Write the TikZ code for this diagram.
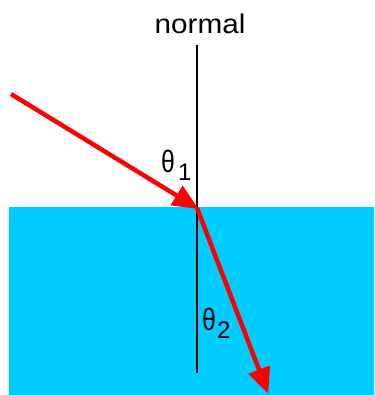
\documentclass[tikz,border=0pt]{standalone}
\usepackage{fontspec}
\setmainfont{Liberation Sans}
\usetikzlibrary{arrows.meta}
\definecolor{water}{HTML}{00CCFF}
\definecolor{ray}{HTML}{FF0000}
\begin{document}
\begin{tikzpicture}[x=1pt,y=-1pt,
  raystyle/.style={draw=ray,line width=4.5pt,-{Triangle[length=26pt,width=22pt]}},
  lbl/.style={inner sep=0pt,font=\fontsize{27}{27}\selectfont},
  greek/.style={inner sep=0pt,xscale=0.8,font=\fontsize{31}{31}\selectfont},
  sub/.style={inner sep=0pt,font=\fontsize{24}{24}\selectfont}]
\useasboundingbox (0,0) rectangle (374,395);
\fill[white] (0,0) rectangle (374,395);
\fill[water] (9,207) rectangle (374,395);
\coordinate (top) at (197,45);
\coordinate (bot) at (197,373);
\coordinate (src) at (11,94);
\coordinate (hit) at (197,208);
\coordinate (end) at (268,393);
\draw[line width=1.6pt] (top) -- (bot);
\draw[raystyle,shorten >=-2pt] (src) -- (hit);
\draw[raystyle,shorten >=-1pt] (hit) -- (end);
\node[lbl,anchor=base,xscale=1.1] (normal) at (200,34) {normal};
\node[greek,anchor=base west] (th1) at (161,172) {θ};
\node[sub,anchor=base west] (s1) at (178,180) {1};
\node[greek,anchor=base west] (th2) at (202,330) {θ};
\node[sub,anchor=base west] (s2) at (217,338) {2};
\end{tikzpicture}
\end{document}
